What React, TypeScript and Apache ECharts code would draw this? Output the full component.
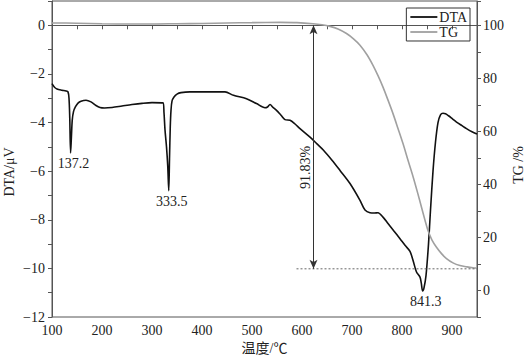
import React, { useEffect, useRef } from "react";
import * as echarts from "echarts";

// DTA curve (temperature °C, µV)
const dtaX = [100, 105, 110, 120, 128, 132, 134, 135.5, 137.2, 138.8, 140.5, 143, 147, 152, 158, 168, 178, 188, 196, 205, 220, 240, 260, 280, 300, 322, 324, 326, 329, 331.5, 333.5, 335, 336.5, 338, 340, 344, 350, 358, 376, 446, 463, 489, 509, 526, 531, 536, 542, 549, 558, 566, 576, 586, 596, 616, 630, 643, 660, 676, 696, 716, 726, 736, 745, 752, 762, 772, 783, 796, 806, 816, 823, 829, 836, 838.5, 841.3, 844, 848, 853, 857, 862, 867, 872, 877, 882, 887, 893, 901, 909, 920, 929, 940, 950];
const dtaY = [-2.4, -2.55, -2.62, -2.67, -2.7, -2.74, -3.0, -3.8, -5.25, -4.6, -3.9, -3.55, -3.35, -3.2, -3.12, -3.08, -3.15, -3.3, -3.38, -3.4, -3.38, -3.32, -3.26, -3.21, -3.18, -3.19, -3.6, -4.3, -5.0, -5.8, -6.8, -5.5, -4.2, -3.5, -3.12, -2.95, -2.83, -2.77, -2.74, -2.74, -2.88, -3.02, -3.22, -3.39, -3.36, -3.26, -3.38, -3.5, -3.7, -3.88, -3.91, -4.06, -4.25, -4.6, -4.88, -5.14, -5.55, -5.97, -6.51, -7.2, -7.6, -7.71, -7.72, -7.71, -7.89, -8.15, -8.44, -8.78, -9.05, -9.3, -9.74, -10.15, -10.36, -10.6, -10.93, -10.8, -10.3, -9.0, -7.6, -6.0, -4.8, -4.0, -3.68, -3.62, -3.64, -3.72, -3.85, -3.98, -4.13, -4.25, -4.38, -4.47];

// TG curve (temperature °C, %)
const tgX = [100, 150, 200, 250, 300, 350, 400, 450, 500, 556, 590, 622, 640, 656, 672, 689, 703, 716, 730, 742, 752, 762, 772, 782, 792, 802, 812, 822, 831, 839, 846, 852, 860, 869, 879, 889, 902, 916, 930, 942, 950];
const tgY = [100.9, 100.8, 100.6, 100.5, 100.5, 100.6, 100.7, 100.9, 101.0, 101.1, 101.0, 100.6, 100.2, 99.6, 98.6, 96.9, 94.9, 92.5, 88.9, 84.9, 81.0, 76.7, 71.8, 66.7, 61.1, 55.4, 49.1, 43.0, 37.0, 31.4, 26.5, 22.6, 19.0, 16.3, 13.9, 12.0, 10.4, 9.4, 8.9, 8.6, 8.5];

// Peak annotations
const peakX = [137.2, 333.5, 841.3];
const peakY = [-5.25, -6.8, -10.93];
const peakLabels = ["137.2", "333.5", "841.3"];

// Mass loss annotation
const lossText = "91.83%";
const lossArrowX = 623;
const lossTop = 100;
const lossBottom = 8.17;
const lossLineX = [589, 950];
const lossTextPos = [606, 46.4];

const FONT = "'Liberation Serif', 'Noto Sans CJK SC', serif";
const AXIS = "#555";
const TXT = "#222";

const minus = (v: number) => (v < 0 ? "\u2212" + Math.abs(v) : String(v));

export default function App() {
  const ref = useRef<HTMLDivElement>(null);
  useEffect(() => {
    if (!ref.current) return;
    const chart = echarts.init(ref.current, undefined, { renderer: "svg" });
    const dtaData = dtaX.map((x, i) => [x, dtaY[i]]);
    const tgData = tgX.map((x, i) => [x, tgY[i]]);
    const peakData = peakX.map((x, i) => ({ value: [x, peakY[i]], label: { formatter: peakLabels[i] } }));
    chart.setOption({
      animation: false,
      textStyle: { fontFamily: FONT },
      grid: {
        left: 52,
        right: 50,
        top: 1,
        bottom: 39,
        show: true,
        borderColor: AXIS,
        borderWidth: 1,
        containLabel: false,
        outerBoundsMode: "none",
      },
      legend: {
        data: ["DTA", "TG"],
        orient: "vertical",
        right: 57,
        top: 8,
        icon: "rect",
        itemWidth: 27,
        itemHeight: 1.8,
        itemGap: 1,
        padding: [2, 3, 2, 4],
        borderColor: "#333",
        borderWidth: 1,
        textStyle: { fontFamily: FONT, fontSize: 14, color: TXT, padding: [0, 0, 0, -3] },
      },
      xAxis: {
        type: "value",
        min: 100,
        max: 950,
        interval: 50,
        name: "温度/℃",
        nameLocation: "middle",
        nameGap: 24,
        nameMoveOverlap: false,
        nameTextStyle: { fontFamily: FONT, fontSize: 14, color: TXT },
        axisLine: { lineStyle: { color: AXIS } },
        axisTick: { length: 4, lineStyle: { color: AXIS } },
        splitLine: { show: false },
        axisLabel: {
          fontFamily: FONT,
          fontSize: 14,
          color: TXT,
          margin: 6,
          formatter: (v: number) => (v % 100 === 0 ? String(v) : ""),
        },
      },
      yAxis: [
        {
          type: "value",
          min: -12,
          max: 1,
          interval: 1,
          name: "DTA/μV",
          nameLocation: "middle",
          nameGap: 36,
          nameMoveOverlap: false,
          nameRotate: 90,
          nameTextStyle: { fontFamily: FONT, fontSize: 14, color: TXT, padding: [0, 26, 0, 0] },
          axisLine: { show: true, lineStyle: { color: AXIS } },
          axisTick: { show: true, length: 4, lineStyle: { color: AXIS } },
          splitLine: { show: false },
          axisLabel: {
            fontFamily: FONT,
            fontSize: 14,
            color: TXT,
            margin: 7,
            formatter: (v: number) => (Math.round(v) % 2 === 0 && v <= 0 ? minus(v) : ""),
          },
        },
        {
          type: "value",
          position: "right",
          min: -10,
          max: 109.17,
          interval: 10,
          name: "TG /%",
          nameLocation: "middle",
          nameGap: 34,
          nameMoveOverlap: false,
          nameRotate: 90,
          nameTextStyle: { fontFamily: FONT, fontSize: 14, color: TXT, padding: [0, 12, 0, 0] },
          axisLine: { show: true, lineStyle: { color: AXIS } },
          axisTick: { show: true, length: 4, lineStyle: { color: AXIS } },
          splitLine: { show: false },
          axisLabel: {
            fontFamily: FONT,
            fontSize: 14,
            color: TXT,
            margin: 6,
            formatter: (v: number) => (v >= 0 && v <= 100 && Math.abs(v % 20) < 1e-6 ? String(v) : ""),
          },
        },
      ],
      series: [
        {
          name: "DTA",
          type: "line",
          data: dtaData,
          symbol: "none",
          smooth: 0.3,
          lineStyle: { color: "#111", width: 1.6 },
          itemStyle: { color: "#111" },
        },
        {
          name: "TG",
          type: "line",
          yAxisIndex: 1,
          data: tgData,
          symbol: "none",
          smooth: 0.3,
          lineStyle: { color: "#a0a0a0", width: 1.6 },
          itemStyle: { color: "#a0a0a0" },
        },
        {
          name: "loss",
          type: "line",
          yAxisIndex: 1,
          data: lossLineX.map((x) => [x, lossBottom]),
          symbol: "none",
          lineStyle: { color: "#666", width: 1, type: [2, 2] },
          markLine: {
            silent: true,
            symbol: ["arrow", "arrow"],
            symbolSize: [6, 9],
            lineStyle: { color: "#333", width: 1, type: "solid" },
            label: { show: false },
            data: [[{ coord: [lossArrowX, lossTop] }, { coord: [lossArrowX, lossBottom] }]],
          },
        },
        {
          name: "lossText",
          type: "scatter",
          yAxisIndex: 1,
          symbolSize: 0,
          itemStyle: { opacity: 1 },
          data: [lossTextPos],
          label: {
            show: true,
            position: "inside",
            rotate: 90,
            formatter: lossText,
            fontFamily: FONT,
            fontSize: 14,
            color: TXT,
          },
        },
        {
          name: "peaks",
          type: "scatter",
          symbolSize: 0,
          itemStyle: { opacity: 1 },
          data: peakData,
          label: {
            show: true,
            position: "bottom",
            distance: 4,
            offset: [3, 0],
            fontFamily: FONT,
            fontSize: 14,
            color: TXT,
          },
        },
      ],
    });
    return () => chart.dispose();
  }, []);
  return <div ref={ref} style={{ width: 527, height: 356, position: "absolute", left: 0, top: 0 }} />;
}
